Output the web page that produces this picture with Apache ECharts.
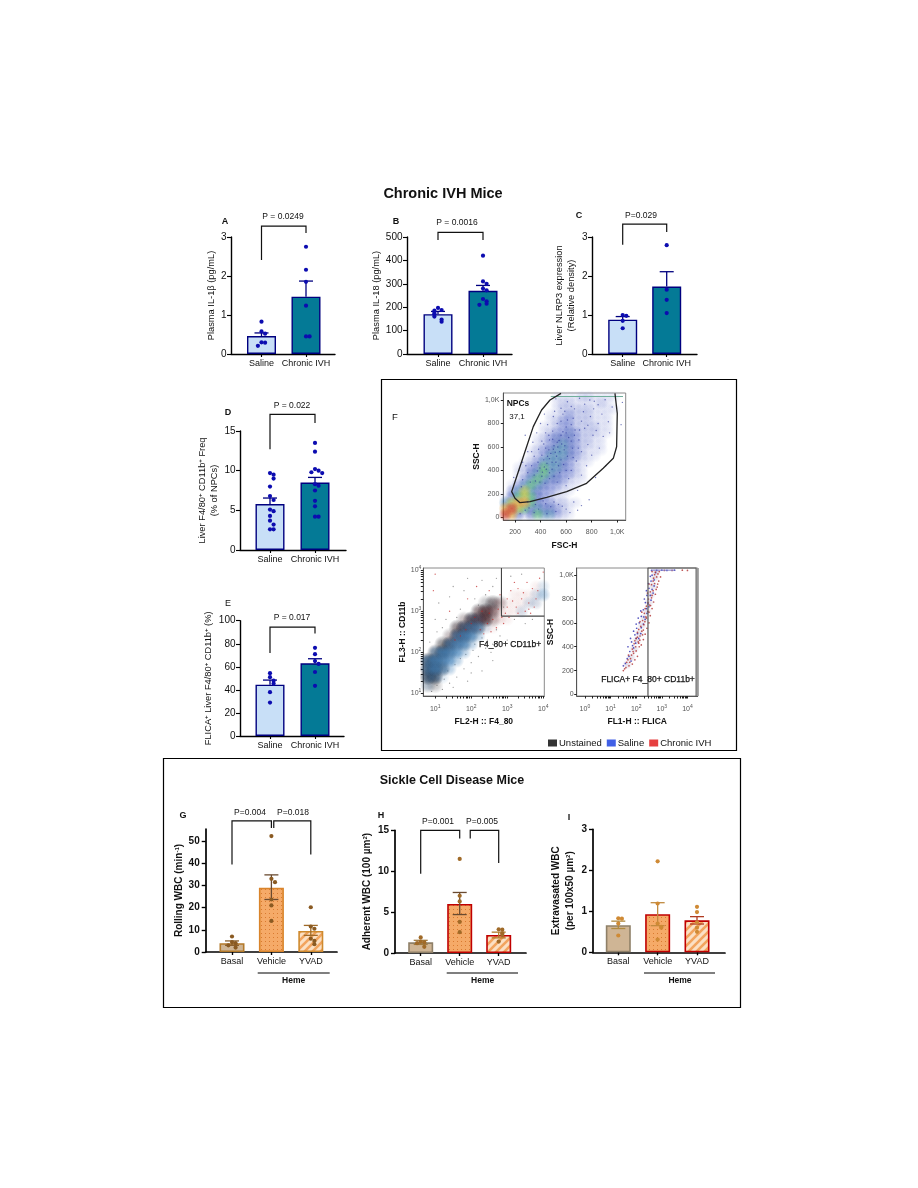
<!DOCTYPE html>
<html><head><meta charset="utf-8">
<script src="https://cdn.jsdelivr.net/npm/echarts@6/dist/echarts.min.js"></script>
<style>html,body{margin:0;background:#fff}#c{width:918px;height:1188px}#c canvas{filter:blur(.4px)}</style>
</head><body><div id="c"></div>
<script>
// ---------- categories ----------
const catIVH = ['Saline', 'Chronic IVH'];
const catSCD = ['Basal', 'Vehicle', 'YVAD'];
// ---------- panel A ----------
const A_means = [0.46, 1.47], A_hi = [0.54, 1.87];
const A_saline = [0.83, 0.58, 0.52, 0.30, 0.29, 0.21];
const A_ivh = [2.75, 2.16, 1.85, 1.24, 0.45, 0.45];
const A_bracket = [[1, 2, 2.41, 3.28, 3.1]];
// ---------- panel B ----------
const B_means = [170, 270], B_hi = [182, 293];
const B_saline = [197, 188, 185, 175, 170, 160, 147, 138];
const B_ivh = [420, 310, 300, 280, 272, 235, 225, 215, 210];
const B_bracket = [[1, 2, 487, 520, 487]];
// ---------- panel C ----------
const C_means = [0.88, 1.73], C_hi = [0.96, 2.11];
const C_saline = [1.0, 0.98, 0.85, 0.66];
const C_ivh = [2.79, 1.65, 1.39, 1.05];
const C_bracket = [[1, 2, 2.8, 3.33, 3.13]];
// ---------- panel D ----------
const D_means = [5.8, 8.5], D_hi = [6.55, 9.15];
const D_saline = [9.7, 9.5, 9.0, 8.0, 6.8, 6.3, 5.1, 4.9, 4.3, 3.7, 3.2, 2.6, 2.6];
const D_ivh = [13.5, 12.4, 10.2, 10, 9.8, 9.7, 8.3, 8.1, 7.5, 6.2, 5.5, 4.2, 4.2];
const D_bracket = [[1, 2, 12.7, 17.1, 16]];
// ---------- panel E ----------
const E_means = [44.5, 63], E_hi = [48.5, 67];
const E_saline = [54.5, 51, 48, 45.5, 38, 29];
const E_ivh = [76.5, 71, 65, 62.5, 55.5, 43.5];
const E_bracket = [[1, 2, 72, 94.5, 89]];
// ---------- panel G ----------
const G_means = [4, 29, 9.5], G_hi = [5, 34.8, 12], G_lo = [3, 23.7, 7.5];
const G_basal = [7, 4.5, 4, 3, 2], G_vehicle = [52.3, 33, 31.5, 23.7, 21, 14], G_yvad = [20.2, 11.5, 10.5, 6, 5, 3.5];
const G_bracket = [[1, 2, 39.5, 59.2, 56], [2.06, 3, 56, 59.2, 44]];
// ---------- panel H ----------
const H_means = [1.3, 6, 2.2], H_hi = [1.55, 7.4, 2.55], H_lo = [1.05, 4.7, 1.85];
const H_basal = [1.9, 1.4, 1.3, 1.2, 0.75], H_vehicle = [11.5, 7, 6.3, 3.8, 2.55], H_yvad = [2.9, 2.85, 2.4, 2.2, 1.4];
const H_bracket = [[1, 2, 9.7, 15, 14], [2.27, 3, 14, 15, 11]];
// ---------- panel I ----------
const I_means = [0.66, 0.93, 0.78], I_hi = [0.76, 1.21, 0.87], I_lo = [0.58, 0.65, 0.69];
const I_basal = [0.83, 0.82, 0.70, 0.41], I_vehicle = [2.22, 1.19, 0.7, 0.62, 0.6, 0.31], I_yvad = [1.11, 0.98, 0.73, 0.6, 0.5];
// ---------- panel F, top: FSC / SSC density (x 125..1025 step 50, y 1025..25 step 50) ----------
const F1_density = [
'0000000011112211110','0000000012211112100','0000000012222211110','0000000112322211100',
'0000000123322211100','0000001123322221100','0000001233432221100','0000012344432211000',
'0000012345432211000','0000123455432111000','0000123555432110000','0001235554321100000',
'0012346554321000000','0012456543321000000','0013565443211000000','0135654332110000000',
'0357543321100000000','1467643211000000000','5788643322110000000','8976454432100000000','9842465532100000000'];
const F1_gate = [[560,1057],[474,1000],[408,915],[343,773],[265,517],[187,261],[174,219],[200,162],[239,125],[317,134],[448,170],[604,219],[760,290],[890,418],[969,503],[995,602],[1000,886],[982,1057]];
const F1_topline = [[480,1030],[1045,1030]];
const F1_specks = [[520,1010],[610,985],[705,1015],[820,990],[905,1002],[560,930],[640,945],[735,900],[815,925],[880,880],[960,940],[500,860],[575,880],[655,845],[720,820],[790,860],[850,800],[930,815],[455,790],[530,800],[600,770],[670,745],[745,760],[810,700],[890,690],[440,720],[495,735],[560,700],[620,680],[700,660],[770,620],[860,590],[410,650],[470,660],[530,640],[590,610],[650,590],[720,560],[800,530],[385,580],[440,590],[500,580],[550,560],[610,520],[680,480],[760,440],[350,520],[410,530],[470,500],[520,470],[580,450],[640,400],[720,360],[330,440],[380,470],[430,430],[490,410],[550,380],[620,330],[300,380],[350,360],[410,350],[470,330],[530,300],[600,270],[690,230],[300,130],[360,110],[420,140],[480,90],[540,110],[600,70],[660,130],[720,100],[280,60],[350,40],[450,30],[520,50],[230,400],[190,340],[260,470],[300,560],[340,640],[280,700],[400,800],[370,720],[430,880],[250,260],[545,655],[505,610],[465,575],[425,490],[395,420],[575,730],[610,830],[525,520],[560,490],[450,460],
[455,520],[480,545],[515,555],[535,600],[565,625],[585,575],[490,470],[445,410],[415,385],[375,395],[360,310],[395,300],[435,290],[505,350],[470,380],[540,440],[600,400],[655,510],[640,650],[695,590],[665,700],[600,720],[640,790],[705,745],[560,820],[590,905],[665,925],[745,965],[785,1000],[850,960],[835,740],[770,785],[940,720],[510,905],[465,700],[425,625],[495,665],[330,560],[285,440],[320,300],[260,320],[240,30],[310,80],[385,70],[440,115],[505,130],[570,95],[630,40],[690,60],[780,150],[830,340],[910,440],[1030,790],[1040,980]];
// ---------- panel F, lower left: log10 F4_80 / log10 CD11b density (x .8..4 step .2, y 4..1 step .2) ----------
const F2_unstained = ['00000000000000000','00000000000000000','00000000000000000','00000000000000000','00000000121000000','00000002320000000','00000134310000000','00002442000000000','00013310000000000','00232100000000000','02320000000000000','33200000000000000','54200000000000000','43000000000000000','11000000000000000','00000000000000000'];
const F2_saline = ['00000000000000000','00000000000000000','00000000000000001','00000000000000012','00000000000000110','00000000000001000','00000011000000000','00000233100000000','00003442000000000','00034420000000000','02454200000000000','35542000000000000','34320000000000000','22100000000000000','10000000000000000','00000000000000000'];
const F2_chronic = ['00000000000000000','00000000000000000','00000000000000010','00000000000011110','00000000012111110','00000002332111000','00000123322100000','00001221110000000','00012100000000000','00011000000000000','00000000000000000','00000000000000000','00000000000000000','00000000000000000','00000000000000000','00000000000000000'];
const F2_redSpecks = [[3.1,3.5],[3.4,3.3],[3.6,3.2],[3.25,3.1],[3.5,3.0],[3.8,3.3],[3.05,2.85],[3.3,2.95],[2.9,2.7],[2.7,2.6],[2.55,2.5],[2.35,2.45],[3.7,3.55],[3.9,3.8],[4.0,3.95],[3.2,3.7],[2.8,3.4],[2.5,3.5],[3.0,3.3],[2.6,2.8],[2.95,2.95],[3.65,2.95],[3.75,3.1],[1.0,3.9],[0.95,3.5],[1.4,3.0],[1.9,3.3],[2.15,3.6],[3.15,3.25],[3.45,3.45],[3.55,3.7],[3.3,3.55],[2.75,3.05],[2.45,2.7],[2.25,2.55],[3.0,3.1],[2.85,2.85],[3.85,3.5],[3.6,3.05],[2.1,2.85],[2.3,3.0],[2.5,2.95],[2.0,2.7],[1.85,2.55],[1.7,2.4],[1.55,2.3]];
const F2_graySpecks = [[1.1,3.2],[1.5,3.6],[1.9,3.8],[2.3,3.75],[2.7,3.8],[3.1,3.85],[1.3,2.8],[1.7,3.05],[2.1,3.3],[2.4,3.4],[2.9,3.1],[3.2,2.8],[3.5,2.7],[2.8,2.4],[2.6,2.2],[2.4,2.1],[2.2,1.9],[2.0,1.75],[1.8,1.6],[1.6,1.4],[1.4,1.25],[1.2,1.1],[0.9,1.05],[1.05,2.5],[0.85,2.25],[1.2,2.6],[2.55,2.0],[3.0,2.3],[2.3,1.55],[1.9,1.3],[3.7,2.8],[1.6,2.85],[1.35,1.55],[1.7,1.85],[2.1,2.2],[2.3,2.35],[1.0,2.8],[1.4,3.35],[1.8,3.5],[2.2,3.15],[2.6,3.6],[3.4,3.9],[1.55,1.7],[1.85,1.95],[2.05,2.05],[2.45,2.3],[2.7,2.55],[1.25,1.35],[1.05,1.2],[1.5,1.15],[2.0,1.5],[2.6,1.8]];
const F2_gate = [[2.84,4.05],[2.84,2.88],[4.03,2.88]];
// ---------- panel F, lower right: log10 FLICA / SSC ----------
const F3_chronic = [[1.55,215],[1.72,240],[1.63,270],[1.85,255],[1.78,300],[1.95,290],[1.7,330],[1.9,345],[2.05,320],[1.85,380],[2.0,365],[2.12,400],[1.92,425],[2.08,440],[2.2,415],[2.0,470],[2.15,490],[2.28,460],[2.05,520],[2.22,530],[2.35,505],[2.18,570],[2.3,585],[2.42,555],[2.25,620],[2.4,640],[2.5,600],[2.32,680],[2.45,695],[2.55,660],[2.4,740],[2.52,750],[2.62,720],[2.48,800],[2.6,810],[2.68,775],[2.55,860],[2.66,870],[2.75,840],[2.6,920],[2.72,930],[2.82,900],[2.68,975],[2.8,985],[2.88,950],[2.75,1025],[2.9,1030],[3.1,1040],[3.4,1040],[3.8,1042],[4.0,1040],
[1.6,225],[1.5,200],[1.68,290],[1.82,330],[1.75,270],[1.98,400],[1.88,360],[2.1,430],[1.95,450],[2.14,455],[2.05,480],[2.25,500],[2.1,545],[2.28,540],[2.15,610],[2.34,610],[2.38,650],[2.22,690],[2.5,690],[2.35,720],[2.46,770],[2.56,745],[2.44,850],[2.62,830],[2.5,925],[2.78,880],[2.66,950],[2.84,925],[2.72,1005],[2.85,1010],[2.62,1030],[2.95,985]];
const F3_saline = [[1.5,240],[1.65,300],[1.8,280],[1.75,360],[1.9,390],[1.82,440],[1.98,430],[1.95,500],[2.1,470],[2.02,555],[2.18,510],[2.12,600],[2.28,590],[2.2,655],[2.35,630],[2.28,710],[2.42,680],[2.36,770],[2.5,735],[2.42,830],[2.58,790],[2.5,890],[2.66,850],[2.58,950],[2.7,910],[2.62,1000],[2.76,1020],[2.6,1040],[2.8,1040],[3.0,1042],[3.2,1040],[3.5,1042],
[1.58,260],[1.72,320],[1.68,400],[1.86,410],[1.78,470],[2.0,470],[1.9,530],[2.05,510],[2.0,590],[2.2,560],[2.08,640],[2.3,650],[2.18,700],[2.4,720],[2.32,800],[2.46,760],[2.4,870],[2.55,830],[2.48,930],[2.62,880],[2.55,990],[2.7,960]];
const F3_haze = [[1.65,250],[1.8,310],[1.92,380],[2.02,450],[2.12,510],[2.22,580],[2.32,640],[2.42,700],[2.5,770],[2.58,840],[2.65,910],[2.72,980],[2.78,1030]];
const F3_gate = [[2.46,-13],[2.46,1060],[4.34,1060],[4.34,-13]];
const F3_edge = [[4.4,-13],[4.4,1060]];
const F3_topline = [[2.6,1042],[3.5,1042]];
// ---------- axis tick values ----------
const tA=[0,1,2,3], tB=[0,100,200,300,400,500], tD=[0,5,10,15], tE=[0,20,40,60,80,100], tG=[0,10,20,30,40,50], tH=[0,5,10,15];
const tF1x=[200,400,600,800,1000], tF1y=[0,200,400,600,800,1000];
const logMajor2=[1,2,3,4], logMajor3=[0,1,2,3,4];
const logMinor=[.3,.48,.6,.7,.78,.85,.9,.95];

const FONT='"Liberation Sans",Arial,sans-serif';
const supRich={s:{fontSize:6,padding:[0,0,4,0],fontFamily:FONT,fontWeight:'bold'}};
const grids=[],xAxes=[],yAxes=[],series=[];

function stripeCanvas(bg,fg){const c=document.createElement('canvas');c.width=c.height=8;const g=c.getContext('2d');g.fillStyle=bg;g.fillRect(0,0,8,8);g.strokeStyle=fg;g.lineWidth=2.6;[[-4,4,4,-4],[0,8,8,0],[4,12,12,4]].forEach(l=>{g.beginPath();g.moveTo(l[0],l[1]);g.lineTo(l[2],l[3]);g.stroke();});return c;}
function dotCanvas(bg,fg){const c=document.createElement('canvas');c.width=c.height=4;const g=c.getContext('2d');g.fillStyle=bg;g.fillRect(0,0,4,4);g.fillStyle=fg;g.fillRect(1,1,1,1);return c;}
const dotFill={image:dotCanvas('#f5aa68','#d97a30'),repeat:'repeat'};
const stripeFill={image:stripeCanvas('#fbe0c4','#f2a45e'),repeat:'repeat'};

function swarm(vals,pxPerVal,xc,pxPerX){const done=[];return vals.map(v=>{const n=done.filter(u=>Math.abs(u-v)*pxPerVal<4).length;done.push(v);const off=n===0?0:(n%2?1:-1)*Math.ceil(n/2)*3.6;return [xc+off/pxPerX,v];});}

function barPanel(L,D){
  const i=grids.length;
  grids.push({left:L.ax,top:L.top,width:L.xend-L.ax,height:L.y0-L.top});
  const xs=D.cats.map((c,k)=>k+1);
  xAxes.push({gridIndex:i,type:'value',min:1+(L.ax-L.c1)/L.step,max:1+(L.xend-L.c1)/L.step,splitLine:{show:false},
    axisLine:{onZero:false,lineStyle:{color:'#000',width:L.lw}},
    axisTick:{customValues:xs,length:3,lineStyle:{color:'#000',width:L.lw*.8}},
    axisLabel:{customValues:xs,margin:5,color:'#111',fontSize:9,fontFamily:FONT,formatter:v=>D.cats[Math.round(v)-1]}});
  yAxes.push({gridIndex:i,type:'value',min:0,max:L.yMax,splitLine:{show:false},
    name:D.title,nameLocation:'middle',nameGap:L.gap,nameRotate:90,
    nameTextStyle:{color:'#111',fontSize:L.nameSize,fontWeight:L.nameBold,fontFamily:FONT,lineHeight:L.nameLine||11,rich:supRich},
    axisLine:{onZero:false,lineStyle:{color:'#000',width:L.lw}},
    axisTick:{customValues:D.ticks,length:4,lineStyle:{color:'#000',width:L.lw*.8}},
    axisLabel:{customValues:D.ticks,margin:L.tm,color:'#111',fontSize:10,fontWeight:L.tickBold,fontFamily:FONT}});
  series.push({type:'bar',name:D.name+' mean',xAxisIndex:i,yAxisIndex:i,barWidth:L.barW,z:2,silent:true,
    data:D.means.map((m,k)=>({value:[k+1,m],itemStyle:{color:D.fills[k],borderColor:D.borders[k],borderWidth:L.bw}}))});
  const lo=D.lo||D.means;
  series.push({type:'custom',name:D.name+' SEM',xAxisIndex:i,yAxisIndex:i,z:3,silent:true,
    encode:{x:0,y:[1,2]},data:D.means.map((m,k)=>[k+1,lo[k],D.hi[k]]),
    renderItem:(p,api)=>{const x=api.value(0),a=api.coord([x,api.value(1)]),b=api.coord([x,api.value(2)]),c=D.errs[p.dataIndex],w=L.cap;
      const ln=(x1,y1,x2,y2)=>({type:'line',shape:{x1,y1,x2,y2},style:{stroke:c,lineWidth:1.3,fill:null}});
      const ch=[ln(a[0],a[1],b[0],b[1]),ln(b[0]-w,b[1],b[0]+w,b[1])];
      if(D.lo)ch.push(ln(a[0]-w,a[1],a[0]+w,a[1]));
      return {type:'group',children:ch};}});
  const ppv=(L.y0-L.top)/L.yMax;
  D.points.forEach((vals,k)=>series.push({type:'scatter',name:D.name+' '+D.cats[k],xAxisIndex:i,yAxisIndex:i,z:4,silent:true,
    symbolSize:L.dot,itemStyle:{color:D.dotColor,opacity:1},data:swarm(vals,ppv,k+1,L.step)}));
  if(D.bracket)series.push({type:'custom',name:D.name+' bracket',xAxisIndex:i,yAxisIndex:i,z:5,silent:true,
    encode:{x:[0,1],y:[2,3,4]},data:D.bracket,
    renderItem:(p,api)=>{const x1=api.value(0),x2=api.value(1),yl=api.value(2),yt=api.value(3),yr=api.value(4);
      return {type:'polyline',shape:{points:[api.coord([x1,yl]),api.coord([x1,yt]),api.coord([x2,yt]),api.coord([x2,yr])]},style:{fill:null,stroke:'#111',lineWidth:1.2}};}});
}
const navy='#00007f', teal='#047a96', sal='#c8dff7', dot='#0c0cb0';
const L1={lw:1.4,bw:1.4,barW:29,cap:7,dot:4.2,nameSize:9.3,nameBold:'normal',tickBold:'normal',tm:4.5};
const ivh=(name,m,hi,s,v,b,t,title)=>({name,cats:catIVH,means:m,hi,points:[s,v],bracket:b,ticks:t,title,fills:[sal,teal],borders:[navy,navy],errs:[navy,navy],dotColor:dot});
barPanel({...L1,ax:231,xend:335,c1:261.5,step:44.5,y0:354,top:237,yMax:3,gap:12},ivh('A',A_means,A_hi,A_saline,A_ivh,A_bracket,tA,'Plasma IL-1β (pg/mL)'));
barPanel({...L1,ax:407,xend:512,c1:438,step:45,y0:354,top:237,yMax:500,gap:21},ivh('B',B_means,B_hi,B_saline,B_ivh,B_bracket,tB,'Plasma IL-18 (pg/mL)'));
barPanel({...L1,ax:592,xend:697,c1:622.7,step:44,y0:354,top:237,yMax:3,gap:15,nameLine:12},ivh('C',C_means,C_hi,C_saline,C_ivh,C_bracket,tA,'Liver NLRP3 expression\n(Relative density)'));
barPanel({...L1,ax:240,xend:346,c1:270,step:45,y0:550,top:431,yMax:15,gap:18,nameLine:12},ivh('D',D_means,D_hi,D_saline,D_ivh,D_bracket,tD,'Liver F4/80{s|+} CD11b{s|+} Freq\n(% of NPCs)'));
barPanel({...L1,ax:240,xend:344,c1:270,step:45,y0:736,top:620.7,yMax:100,gap:26},ivh('E',E_means,E_hi,E_saline,E_ivh,E_bracket,tE,'FLICA{s|+} Liver F4/80{s|+} CD11b{s|+} (%)'));

const L2={lw:1.7,bw:1.6,barW:25,cap:7,dot:4.2,nameSize:10,nameBold:'bold',tickBold:'bold',tm:6};
const tan='#cfb595';
barPanel({...L2,ax:205.7,xend:337,c1:232,step:39.4,y0:952,top:829,yMax:55.5,gap:15},{name:'G',cats:catSCD,means:G_means,hi:G_hi,lo:G_lo,points:[G_basal,G_vehicle,G_yvad],bracket:G_bracket,ticks:tG,title:'Rolling WBC (min{s|-1})',fills:[tan,dotFill,stripeFill],borders:['#b47a2a','#d9842b','#cf8a2e'],errs:['#8a6030','#6a4a30','#a06a28'],dotColor:'#8a5a22'});
barPanel({...L2,ax:395,xend:526,c1:420.7,step:39,y0:953,top:830.3,yMax:15,gap:22},{name:'H',cats:catSCD,means:H_means,hi:H_hi,lo:H_lo,points:[H_basal,H_vehicle,H_yvad],bracket:H_bracket,ticks:tH,title:'Adherent WBC (100 µm{s|2})',fills:[tan,dotFill,stripeFill],borders:['#8f8068','#c00000','#c00000'],errs:['#a07a40','#6a4a30','#b07a28'],dotColor:'#a06a28'});
barPanel({...L2,ax:593,xend:725,c1:618.3,step:39.35,y0:952.3,top:829.3,yMax:3,gap:12,nameLine:14},{name:'I',cats:catSCD,means:I_means,hi:I_hi,lo:I_lo,points:[I_basal,I_vehicle,I_yvad],ticks:tA,title:'Extravasated WBC\n(per 100x50 µm{s|2})',fills:[tan,dotFill,stripeFill],borders:['#8f8068','#c00000','#c00000'],errs:['#b08a40','#c08a40','#b03a20'],dotColor:'#cf8a35'});

// ---------- flow plots ----------
const heat=[null,['#aab2e2',.3],['#8f9ad8',.45],['#5a6cc8',.55],['#3a55b5',.62],['#2f6fa8',.65],['#3fa36f',.75],['#a8b840',.85],['#d99a3a',.92],['#c8402a',1]];
const rgba=(h,a)=>`rgba(${parseInt(h.slice(1,3),16)},${parseInt(h.slice(3,5),16)},${parseInt(h.slice(5,7),16)},${a})`;
const soft=(h,a)=>({type:'radial',x:.5,y:.5,r:.5,colorStops:[{offset:0,color:rgba(h,a)},{offset:.45,color:rgba(h,a*.75)},{offset:1,color:rgba(h,0)}]});
function grid2pts(rows,x0,dx,y0,dy,styleFn){const out=[];rows.forEach((r,j)=>[...r].forEach((ch,k)=>{const l=+ch;if(l)out.push({l,value:[x0+k*dx,y0-j*dy],itemStyle:styleFn(l)});}));return out.sort((a,b)=>a.l-b.l);}
function flowAxis(i,o){
  grids.push({left:o.l,top:o.t,width:o.w,height:o.h,show:true,borderColor:'#8a8a8a',borderWidth:1,backgroundColor:'transparent'});
  const rich={b:{fontSize:7,color:'#555',fontFamily:FONT},e:{fontSize:5,color:'#555',padding:[0,0,5,0],fontFamily:FONT}};
  const ax=(a)=>({gridIndex:i,type:'value',min:a.min,max:a.max,splitLine:{show:false},name:a.name,nameLocation:'middle',nameGap:a.gap,
    nameTextStyle:{color:'#111',fontSize:8.5,fontWeight:'bold',fontFamily:FONT},
    axisLine:{onZero:false,lineStyle:{color:'#555',width:1}},
    axisTick:{customValues:a.ticks,length:2.5,lineStyle:{color:'#222',width:1}},
    axisLabel:{customValues:a.major,margin:a.margin,fontSize:7,color:'#555',fontFamily:FONT,rich,formatter:a.fmt}});
  xAxes.push(ax(o.x));yAxes.push(ax(o.y));
}
const fmtK=v=>v===1000?'1,0K':String(v);
const fmtLog=v=>'{b|10}{e|'+v+'}';
const logTicks=(from,to)=>{const t=[];for(let d=from;d<=to;d++){t.push(d);if(d<to)logMinor.forEach(m=>t.push(d+m));}return t;};
const base=(name,i,extra)=>({type:'scatter',name,xAxisIndex:i,yAxisIndex:i,silent:true,...extra});
const lineS=(name,i,data,color,w)=>({type:'line',name,xAxisIndex:i,yAxisIndex:i,data,showSymbol:false,silent:true,z:6,lineStyle:{color,width:w},clip:false});

let fi=grids.length;
flowAxis(fi,{l:503.3,t:393,w:122.4,h:127,
  x:{min:108.6,max:1066,name:'FSC-H',gap:21,ticks:tF1x,major:tF1x,margin:9,fmt:fmtK},
  y:{min:-23,max:1060,name:'SSC-H',gap:14,ticks:tF1y,major:tF1y,margin:4,fmt:fmtK}});
series.push(base('NPC density',fi,{z:3,symbolSize:14,data:grid2pts(F1_density,125,50,1025,50,l=>({color:soft(heat[l][0],heat[l][1])}))}));
series.push(base('NPC events',fi,{z:4,symbolSize:1.4,itemStyle:{color:'#28339a',opacity:.65},data:F1_specks}));
series.push(lineS('NPC saturation',fi,F1_topline,'#6fae9a',1));
series.push(lineS('NPCs gate',fi,F1_gate,'#222',1.3));

fi=grids.length;
flowAxis(fi,{l:423.3,t:568,w:121,h:128,
  x:{min:0.67,max:4.03,name:'FL2-H :: F4_80',gap:21,ticks:logTicks(1,4),major:logMajor2,margin:8,fmt:fmtLog},
  y:{min:0.94,max:4.05,name:'FL3-H :: CD11b',gap:14,ticks:logTicks(1,4),major:logMajor2,margin:2,fmt:fmtLog}});
const lvl=(c,k)=>l=>({color:soft(c,Math.min(.95,l*k))});
series.push(base('Speckle',fi,{z:3,symbolSize:1.3,itemStyle:{color:'#555',opacity:.6},data:F2_graySpecks}));
series.push(base('Unstained',fi,{z:4,symbolSize:17,itemStyle:{color:'#000'},data:grid2pts(F2_unstained,.8,.2,4,.2,lvl('#0a0a14',.3))}));
series.push(base('Chronic IVH',fi,{z:5,symbolSize:14,itemStyle:{color:'#e01010'},data:grid2pts(F2_chronic,.8,.2,4,.2,lvl('#a83a3a',.1))}));
series.push(base('Saline',fi,{z:6,symbolSize:15,itemStyle:{color:'#1238e0'},data:grid2pts(F2_saline,.8,.2,4,.2,lvl('#3f7fb8',.24))}));
series.push(base('Chronic IVH',fi,{z:7,symbolSize:1.4,itemStyle:{color:'#c02020',opacity:.7},data:F2_redSpecks}));
series.push(lineS('F4_80+ CD11b+ gate',fi,F2_gate,'#444',1.1));

fi=grids.length;
flowAxis(fi,{l:576.7,t:568,w:121,h:128,
  x:{min:-0.32,max:4.4,name:'FL1-H :: FLICA',gap:21,ticks:logTicks(0,4),major:logMajor3,margin:8,fmt:fmtLog},
  y:{min:-13,max:1060,name:'SSC-H',gap:14,ticks:tF1y,major:tF1y,margin:3,fmt:fmtK}});
series.push(base('FLICA density',fi,{z:3,symbolSize:10,data:F3_haze.map(v=>({value:v,itemStyle:{color:soft('#a898b8',.4)}}))}));
series.push(base('Saline',fi,{z:4,symbolSize:1.7,itemStyle:{color:'#2a2ab0',opacity:.8},data:F3_saline}));
series.push(base('Chronic IVH',fi,{z:5,symbolSize:1.7,itemStyle:{color:'#b03030',opacity:.8},data:F3_chronic}));
series.push(lineS('FLICA saturation',fi,F3_topline,'#7a7ac8',1));
series.push(lineS('FLICA+ gate',fi,F3_gate,'#555',1.2));
series.push(lineS('FLICA edge',fi,F3_edge,'#999',2.2));

// ---------- text and frames ----------
const txt=(t,x,y,size,bold,extra)=>({type:'text',x,y,z:20,silent:true,style:{text:t,fontSize:size,fontWeight:bold?'bold':'normal',fontFamily:FONT,fill:'#111',textAlign:'center',textVerticalAlign:'middle',align:'center',verticalAlign:'middle',...(extra||{})}});
const frame=(x,y,w,h)=>({type:'rect',z:1,silent:true,shape:{x,y,width:w,height:h},style:{fill:'none',stroke:'#000',lineWidth:1.2}});
const rule=(x1,x2,y)=>({type:'line',z:20,silent:true,shape:{x1,y1:y,x2,y2:y},style:{stroke:'#000',lineWidth:1.2}});
const graphic=[frame(381.5,379.5,355,371),frame(163.5,758.5,577,249),
 txt('P = 0.0249',283,217,8.5),txt('P = 0.0016',457,223,8.5),txt('P=0.029',641,216,8.5),txt('P = 0.022',292,406,8.5),txt('P = 0.017',292,618,8.5),
 txt('P=0.004',250,813,8.5),txt('P=0.018',293,813,8.5),txt('P=0.001',438,822,8.5),txt('P=0.005',482,822,8.5),
 txt('A',225,222,9,true),txt('B',396,222,9,true),txt('C',579,216,9,true),txt('D',228,413,9,true),txt('E',228,604,9),
 txt('F',395,417,9.5),txt('G',183,816,9,true),txt('H',381,816,9,true),txt('I',569,818,9,true),
 txt('NPCs',518,404,8.5,true),txt('37,1',517,417,8),
 txt('F4_80+ CD11b+',510,645,8.5,false,{stroke:'#111',lineWidth:.25}),txt('FLICA+ F4_80+ CD11b+',648,680,8.5,false,{stroke:'#111',lineWidth:.25}),
 rule(257.7,329.7,973),rule(446.7,518,973),rule(644,715,973),
 txt('Heme',293.7,981,8.5,true),txt('Heme',482.7,981,8.5,true),txt('Heme',680,981,8.5,true)];

const chart=echarts.init(document.getElementById('c'),null,{renderer:'canvas'});
chart.setOption({animation:false,backgroundColor:'#fff',
 title:[{text:'Chronic IVH Mice',left:443,top:194,padding:0,textAlign:'center',textVerticalAlign:'middle',textStyle:{fontSize:14.5,fontWeight:'bold',color:'#111',fontFamily:FONT}},
        {text:'Sickle Cell Disease Mice',left:452,top:781,padding:0,textAlign:'center',textVerticalAlign:'middle',textStyle:{fontSize:12.5,fontWeight:'bold',color:'#111',fontFamily:FONT}}],
 legend:{data:['Unstained','Saline','Chronic IVH'],left:548,top:738,padding:0,itemWidth:9,itemHeight:7,itemGap:5,icon:'rect',selectedMode:false,textStyle:{fontSize:9.5,color:'#111',fontFamily:FONT,padding:[0,0,0,-3]}},
 grid:grids,xAxis:xAxes,yAxis:yAxes,series,graphic});
</script></body></html>
